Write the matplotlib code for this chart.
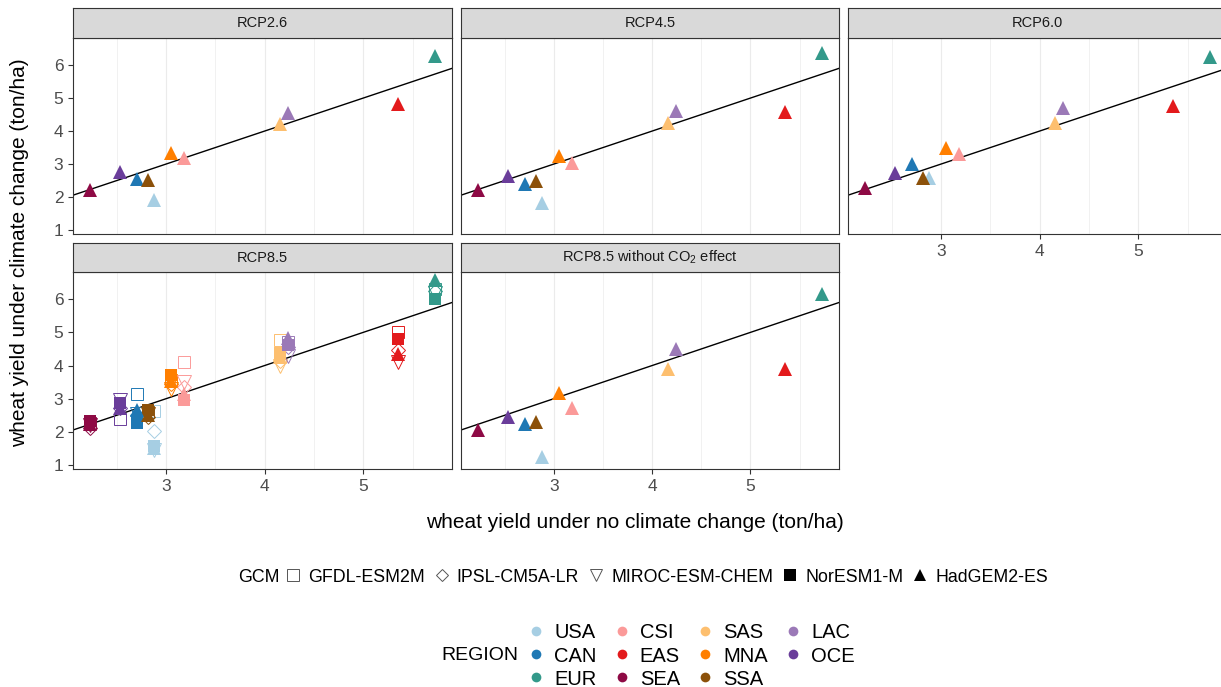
import matplotlib
matplotlib.use("Agg")
import matplotlib.pyplot as plt
from matplotlib.lines import Line2D

plt.rcParams['font.family'] = ['Liberation Sans', 'DejaVu Sans']

# regions and colours
regions = ["USA", "CAN", "EUR", "CSI", "EAS", "SEA", "SAS", "MNA", "SSA", "LAC", "OCE"]
region_colors = ["#A6CEE3", "#1F78B4", "#33998A", "#FB9A99", "#E31A1C", "#8E0A45",
                 "#FDBF6F", "#FF7F00", "#8C510A", "#9B79B7", "#6A3D9A"]

# yield under no climate change (x), same for every panel
x_base = [2.88, 2.71, 5.73, 3.18, 5.35, 2.23, 4.16, 3.05, 2.82, 4.24, 2.53]

# HadGEM2-ES yields under climate change
had_26 = [1.91, 2.54, 6.27, 3.17, 4.81, 2.21, 4.20, 3.34, 2.52, 4.54, 2.77]
had_45 = [1.83, 2.39, 6.38, 3.02, 4.59, 2.22, 4.23, 3.25, 2.48, 4.61, 2.65]
had_60 = [2.57, 3.00, 6.23, 3.29, 4.76, 2.26, 4.25, 3.49, 2.57, 4.71, 2.74]
had_85_noco2 = [1.24, 2.25, 6.15, 2.72, 3.91, 2.05, 3.91, 3.18, 2.30, 4.49, 2.44]

# RCP8.5, all five GCMs
gfdl_85 = [2.62, 3.15, 6.30, 4.12, 5.00, 2.28, 4.78, 3.55, 2.60, 4.70, 2.38]
ipsl_85 = [2.04, 2.50, 6.25, 3.35, 4.48, 2.12, 4.15, 3.45, 2.45, 4.55, 2.72]
miroc_85 = [1.45, 2.55, 6.20, 3.50, 4.10, 2.20, 3.98, 3.30, 2.55, 4.28, 2.95]
nor_85 = [1.57, 2.27, 6.02, 2.97, 4.80, 2.32, 4.38, 3.72, 2.65, 4.62, 2.88]
had_85 = [1.50, 2.65, 6.58, 3.15, 4.35, 2.25, 4.25, 3.52, 2.50, 4.82, 2.72]

gcms = ["GFDL-ESM2M", "IPSL-CM5A-LR", "MIROC-ESM-CHEM", "NorESM1-M", "HadGEM2-ES"]
gcm_markers = ["s", "D", "v", "s", "^"]
gcm_filled = [False, False, False, True, True]
gcm_sizes = [8.5, 7, 10, 8, 10]

W, H = 1221, 687
fig = plt.figure(figsize=(W / 100, H / 100), dpi=100)


def box(l, t, r, b):
    return [l / W, 1 - b / H, (r - l) / W, (b - t) / H]


cols = [(73, 452), (461, 839), (848, 1227)]
rows = [(8, 38, 234), (243, 272, 469)]

panels = [
    ("RCP2.6", 0, 0, {"HadGEM2-ES": had_26}),
    ("RCP4.5", 0, 1, {"HadGEM2-ES": had_45}),
    ("RCP6.0", 0, 2, {"HadGEM2-ES": had_60}),
    ("RCP8.5", 1, 0, {"GFDL-ESM2M": gfdl_85, "IPSL-CM5A-LR": ipsl_85,
                      "MIROC-ESM-CHEM": miroc_85, "NorESM1-M": nor_85,
                      "HadGEM2-ES": had_85}),
    ("RCP8.5 without CO$_\\mathregular{2}$ effect", 1, 1, {"HadGEM2-ES": had_85_noco2}),
]

for title, r, c, series in panels:
    l, rr = cols[c]
    st, pt, pb = rows[r]
    ax = fig.add_axes(box(l, pt, rr, pb))
    sax = fig.add_axes(box(l, st, rr, pt))

    # strip
    sax.set_facecolor("#D9D9D9")
    sax.set_xticks([])
    sax.set_yticks([])
    for s in sax.spines.values():
        s.set_color("#333333")
        s.set_linewidth(0.8)
    sax.text(0.5, 0.5, title, ha="center", va="center", fontsize=10.5,
             color="#1A1A1A", transform=sax.transAxes)

    ax.set_xlim(2.056, 5.90)
    ax.set_ylim(0.88, 6.82)
    for gx in [2.5, 3, 3.5, 4, 4.5, 5, 5.5]:
        ax.axvline(gx, color="#EBEBEB", lw=0.8 if gx % 1 == 0 else 0.5, zorder=0)
    ax.axline((0, 0), slope=1, color="black", lw=1.0, zorder=1)

    for g, m, filled, ms in zip(gcms, gcm_markers, gcm_filled, gcm_sizes):
        if g not in series:
            continue
        vals = series[g]
        for xv, yv, col in zip(x_base, vals, region_colors):
            if filled:
                ax.plot(xv, yv, marker=m, ms=ms, color=col, mec=col, mew=0,
                        ls="none", zorder=3)
            else:
                ax.plot(xv, yv, marker=m, ms=ms, mfc="none", mec=col, mew=0.7,
                        ls="none", zorder=2)

    for s in ax.spines.values():
        s.set_color("#333333")
        s.set_linewidth(0.8)
    ax.set_xticks([3, 4, 5])
    ax.set_yticks([1, 2, 3, 4, 5, 6])
    ax.tick_params(colors="#333333", labelcolor="#4D4D4D", labelsize=12.5,
                   length=3.5, width=0.8)
    if c != 0:
        ax.set_yticklabels([])
        ax.tick_params(axis="y", length=0)
    if r == 0 and c != 2:
        ax.set_xticklabels([])
        ax.tick_params(axis="x", length=0)

fig.text(20 / W, 1 - 253 / H, "wheat yield under climate change (ton/ha)",
         rotation=90, ha="center", va="center", fontsize=15)
fig.text(635 / W, 1 - 523 / H, "wheat yield under no climate change (ton/ha)",
         ha="center", va="center", fontsize=15)

# GCM legend
fig.text(238 / W, 1 - 577 / H, "GCM", ha="left", va="center", fontsize=12.8)
gcm_handles = []
for g, m, filled in zip(gcms, gcm_markers, gcm_filled):
    if filled:
        h = Line2D([], [], marker=m, ls="none", color="black", ms=8, mew=0)
    else:
        h = Line2D([], [], marker=m, ls="none", mfc="none", mec="#555555",
                   ms=8 if m != "D" else 6.5, mew=0.7)
    gcm_handles.append(h)
fig.legend(gcm_handles, gcms, loc="center left", bbox_to_anchor=(284 / W, 1 - 577 / H),
           ncol=5, frameon=False, fontsize=12.8, handlelength=1.0, handletextpad=0.35,
           columnspacing=0.45, borderaxespad=0, borderpad=0)

# REGION legend
fig.text(441 / W, 1 - 656 / H, "REGION", ha="left", va="center", fontsize=14)
reg_handles = [Line2D([], [], marker="o", ls="none", color=col, ms=7, mew=0)
               for col in region_colors]
fig.legend(reg_handles, regions, loc="center left", bbox_to_anchor=(526 / W, 1 - 656 / H),
           ncol=4, frameon=False, fontsize=14.5, handlelength=1.0, handletextpad=0.4,
           columnspacing=0.75, labelspacing=0.2, borderaxespad=0, borderpad=0)

fig.savefig("out.png", dpi=100)
